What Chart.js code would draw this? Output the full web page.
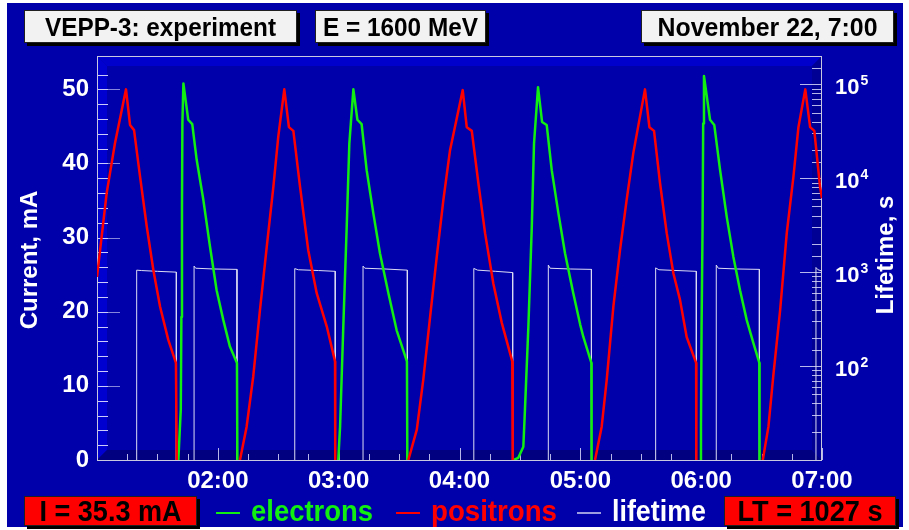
<!DOCTYPE html>
<html>
<head>
<meta charset="utf-8">
<title>VEPP-3 beam currents</title>
<script src="https://cdn.jsdelivr.net/npm/chart.js@4.4.1/dist/chart.umd.min.js"></script>
<style>
  html, body { margin: 0; padding: 0; background: #ffffff; }
  canvas { display: block; }
</style>
</head>
<body>
<canvas id="beamChart" width="909" height="530"></canvas>
<script>
// time is in minutes after midnight, currents in mA, lifetime in s
// null splits one fill/dump cycle from the next
const positronTime = [
  60.0, 64.8, 68.9, 74.4, 76.4, 78.4, 81.4, 84.7, 88.0, 91.3, 95.4, 99.2, 99.6, 100.0,
  131.0, 134.3, 137.6, 140.9, 144.3, 147.6, 150.0, 153.0, 155.3, 157.5, 160.8, 164.9, 169.1, 174.1, 178.2, 178.3, 179.0,
  214.6, 218.8, 222.0, 225.4, 228.7, 232.0, 235.3, 241.6, 243.6, 246.1, 249.4, 252.7, 256.8, 261.0, 266.2, 266.4, 267.0,
  307.3, 310.6, 313.1, 316.4, 319.7, 323.0, 326.3, 332.1, 334.3, 336.6, 339.6, 342.9, 346.2, 349.5, 352.8, 357.5, 357.6, 358.0,
  390.6, 393.4, 395.8, 399.2, 402.5, 405.8, 408.3, 411.7, 414.1, 416.2, 419.0, 420.0
];
const positronCurrent = [
  24.7, 36.0, 42.7, 50.0, 45.2, 44.5, 38.2, 31.5, 25.6, 20.7, 16.2, 13.1, 0, null,
  0, 4.5, 11.3, 20.2, 28.8, 36.9, 43.6, 50.0, 44.9, 44.4, 36.9, 28.3, 22.5, 18.0, 13.3, 0, null,
  0, 4.1, 10.8, 19.3, 27.4, 35.1, 41.8, 49.9, 44.9, 44.4, 37.3, 30.6, 23.8, 18.5, 13.3, 0, null,
  0, 4.5, 10.8, 20.7, 28.3, 35.1, 41.4, 50.0, 44.9, 44.4, 37.3, 30.6, 25.2, 21.6, 16.6, 13.1, 0, null,
  0, 4.5, 11.3, 20.2, 30.6, 38.2, 44.9, 50.0, 44.9, 44.4, 36.9, 35.3
];

const electronTime = [
  100.4, 101.6, 101.9, 102.2, 102.4, 102.9, 105.3, 107.3, 109.5, 112.8, 116.1, 119.4, 122.7, 126.0, 129.5, 129.7, 130.0,
  179.8, 180.7, 182.3, 184.0, 185.3, 187.3, 189.3, 191.4, 193.9, 197.2, 200.5, 204.7, 208.8, 213.9, 214.1, 214.5,
  266.9, 269.2, 271.7, 272.5, 274.2, 275.9, 277.0, 279.0, 281.0, 283.3, 285.8, 289.1, 292.4, 296.5, 299.9, 301.5, 305.5, 305.6, 306.0,
  359.7, 359.9, 360.2, 360.7, 361.0, 361.4, 364.4, 366.5, 369.4, 372.7, 376.0, 379.3, 382.6, 385.9, 388.9, 389.0
];
const electronCurrent = [
  0, 6.8, 19.3, 34.2, 45.4, 50.8, 45.9, 45.3, 40.5, 35.1, 28.8, 22.9, 18.9, 15.3, 13.1, 0, null,
  0, 4.5, 18.0, 31.5, 42.7, 50.0, 45.9, 45.3, 39.1, 33.3, 27.9, 22.5, 17.5, 13.3, 0, null,
  0, 0.3, 1.8, 6.8, 18.0, 31.5, 42.7, 50.3, 45.6, 45.2, 39.1, 33.3, 27.9, 22.5, 18.3, 16.6, 13.1, 0, null,
  0, 4.5, 18.0, 31.5, 45.4, 51.8, 45.9, 45.2, 39.1, 32.8, 27.4, 22.9, 18.9, 15.8, 13.1, 0
];

// lifetime is only measured while a beam is stored; 1 s stands for "no beam"
const NO_BEAM = 1;
const lifetimeTime = [
  79.7, 79.7, 82.0, 90.0, 99.4, 99.4,
  108.2, 108.2, 109.0, 118.0, 129.5, 129.5,
  158.2, 158.2, 160.0, 170.0, 178.3, 178.3,
  192.1, 192.1, 193.0, 203.0, 214.1, 214.1,
  247.1, 247.1, 249.0, 258.0, 266.4, 266.4,
  284.1, 284.1, 285.0, 295.0, 305.5, 305.5,
  337.4, 337.4, 339.0, 348.0, 357.6, 357.6,
  367.5, 367.5, 368.5, 378.0, 388.9, 388.9,
  417.0, 417.0, 418.0, 420.0
];
const lifetimeValue = [
  NO_BEAM, 1050, 1040, 1020, 1000, NO_BEAM,
  NO_BEAM, 1160, 1100, 1080, 1070, NO_BEAM,
  NO_BEAM, 1090, 1060, 1040, 1020, NO_BEAM,
  NO_BEAM, 1160, 1100, 1080, 1050, NO_BEAM,
  NO_BEAM, 1095, 1050, 1020, 990, NO_BEAM,
  NO_BEAM, 1190, 1100, 1080, 1070, NO_BEAM,
  NO_BEAM, 1110, 1060, 1040, 1020, NO_BEAM,
  NO_BEAM, 1190, 1100, 1080, 1070, NO_BEAM,
  NO_BEAM, 1120, 1060, 1027
];

const hourTicks = [120, 180, 240, 300, 360, 420];
const hourLabels = ['02:00', '03:00', '04:00', '05:00', '06:00', '07:00'];
const lifetimeDecades = [2, 3, 4, 5];

const FONT = '"Liberation Sans", Arial, Helvetica, sans-serif';
const BLUE = '#0000aa';
const LIFETIME_COLOR = '#dcdcf4';
const GREEN = '#11ee11';

function toPoints(xs, ys) {
  return xs.map((x, i) => ({ x: x, y: ys[i] }));
}

function polygon(ctx, pts, fill) {
  ctx.beginPath();
  ctx.moveTo(pts[0][0], pts[0][1]);
  for (let i = 1; i < pts.length; i++) ctx.lineTo(pts[i][0], pts[i][1]);
  ctx.closePath();
  ctx.fillStyle = fill;
  ctx.fill();
}

function line(ctx, x1, y1, x2, y2) {
  ctx.beginPath();
  ctx.moveTo(x1, y1);
  ctx.lineTo(x2, y2);
  ctx.stroke();
}

// narrow bold text: drawn at `size` and squeezed to `width`
function narrowText(ctx, text, x, baseline, width, size, align) {
  ctx.font = 'bold ' + size + 'px ' + FONT;
  const w = ctx.measureText(text).width;
  const sx = Math.min(1, width / w);
  ctx.save();
  ctx.translate(x, baseline);
  ctx.scale(sx, 1);
  ctx.textAlign = align;
  ctx.textBaseline = 'alphabetic';
  ctx.fillText(text, 0, 0);
  ctx.restore();
}

// box with a black drop shadow, text centred in it
function labelBox(ctx, x, y, w, h, fill, text, color, size, textWidth) {
  ctx.fillStyle = '#000000';
  ctx.fillRect(x + 3, y + 3, w, h);
  ctx.fillStyle = fill;
  ctx.fillRect(x, y, w, h);
  ctx.strokeStyle = '#202020';
  ctx.lineWidth = 1;
  ctx.strokeRect(x + 0.5, y + 0.5, w - 1, h - 1);
  ctx.fillStyle = color;
  narrowText(ctx, text, x + w / 2, y + h / 2 + size * 0.36, textWidth, size, 'center');
}

const framePlugin = {
  id: 'vepp3Frame',
  beforeDraw(chart) {
    const ctx = chart.ctx;
    ctx.save();
    ctx.fillStyle = '#ffffff';
    ctx.fillRect(0, 0, chart.width, chart.height);
    ctx.fillStyle = BLUE;
    ctx.fillRect(7, 3, 896, 524);
    ctx.restore();
  },
  beforeDatasetsDraw(chart) {
    const ctx = chart.ctx;
    const a = chart.chartArea;
    const d = 10; // depth of the box-like frame
    ctx.save();
    polygon(ctx, [[a.left, a.top], [a.right, a.top], [a.right - d, a.top + d], [a.left + d, a.top + d]], '#0000cc');
    polygon(ctx, [[a.left, a.top], [a.left + d, a.top + d], [a.left + d, a.bottom - d], [a.left, a.bottom]], '#0000d0');
    polygon(ctx, [[a.left, a.bottom], [a.left + d, a.bottom - d], [a.right - d, a.bottom - d], [a.right, a.bottom]], '#000080');
    polygon(ctx, [[a.right, a.top], [a.right, a.bottom], [a.right - d, a.bottom - d], [a.right - d, a.top + d]], '#000094');

    ctx.lineWidth = 1;
    // current axis ticks, every 2 mA, longer every 10 mA
    const y = chart.scales.y;
    y.ticks.forEach(t => {
      if (t.value % 2 !== 0) return;
      const py = Math.round(y.getPixelForValue(t.value)) + 0.5;
      ctx.strokeStyle = 'rgba(225,225,255,0.9)';
      line(ctx, a.left, py, a.left + 11, py);
      if (t.value % 10 === 0) {
        ctx.strokeStyle = 'rgba(190,190,240,0.7)';
        line(ctx, a.left + 11, py, a.left + 23, py);
      }
    });
    // time axis ticks, every 15 min, longer on the hour
    const x = chart.scales.x;
    x.ticks.forEach(t => {
      const px = Math.round(x.getPixelForValue(t.value)) + 0.5;
      ctx.strokeStyle = 'rgba(215,215,250,0.85)';
      line(ctx, px, a.bottom, px, a.bottom - (t.value % 60 === 0 ? 12 : 6));
    });
    // lifetime axis ticks, 1..9 per decade
    const y2 = chart.scales.y2;
    y2.ticks.forEach(t => {
      const sig = t.value / Math.pow(10, Math.floor(Math.log10(t.value) + 1e-9));
      const py = Math.round(y2.getPixelForValue(t.value)) + 0.5;
      ctx.strokeStyle = 'rgba(215,215,250,0.85)';
      line(ctx, a.right, py, a.right - (Math.abs(sig - 1) < 1e-6 ? 22 : 10), py);
    });

    // frame outline
    ctx.strokeStyle = '#c8c8e0';
    ctx.strokeRect(a.left + 0.5, a.top + 0.5, a.right - a.left - 1, a.bottom - a.top);
    ctx.restore();
  },
  afterDraw(chart) {
    const ctx = chart.ctx;
    const a = chart.chartArea;
    ctx.save();

    // lifetime axis labels 10^n
    const y2 = chart.scales.y2;
    lifetimeDecades.forEach(e => {
      const py = y2.getPixelForValue(Math.pow(10, e));
      ctx.fillStyle = '#ffffff';
      ctx.textAlign = 'left';
      ctx.textBaseline = 'alphabetic';
      ctx.font = 'bold 22px ' + FONT;
      ctx.fillText('10', a.right + 13, py + 10);
      const w = ctx.measureText('10').width;
      ctx.font = 'bold 14px ' + FONT;
      ctx.fillText(String(e), a.right + 14 + w, py + 1);
    });

    // axis titles
    ctx.fillStyle = '#ffffff';
    ctx.font = 'bold 24px ' + FONT;
    ctx.textAlign = 'center';
    ctx.textBaseline = 'middle';
    ctx.save();
    ctx.translate(30, 260);
    ctx.rotate(-Math.PI / 2);
    ctx.fillText('Current, mA', 0, 0);
    ctx.restore();
    ctx.save();
    ctx.translate(886, 255);
    ctx.rotate(-Math.PI / 2);
    ctx.fillText('Lifetime, s', 0, 0);
    ctx.restore();

    // header
    labelBox(ctx, 24, 10, 273, 33, '#f2f2f2', 'VEPP-3: experiment', '#000000', 26, 231);
    labelBox(ctx, 315, 10, 171, 33, '#f2f2f2', 'E = 1600 MeV', '#000000', 26, 155);
    labelBox(ctx, 641, 10, 253, 33, '#f2f2f2', 'November 22, 7:00', '#000000', 26, 220);

    // footer: last readings and the legend
    const lastCurrent = positronCurrent[positronCurrent.length - 1];
    const lastLifetime = lifetimeValue[lifetimeValue.length - 1];
    labelBox(ctx, 24, 496, 173, 30, '#ff0000', 'I = ' + lastCurrent.toFixed(1) + ' mA', '#000000', 29, 142);
    labelBox(ctx, 724, 496, 172, 30, '#ff0000', 'LT = ' + lastLifetime + ' s', '#000000', 29, 145);

    const legend = [
      { x: 216, color: GREEN, lineColor: GREEN, text: 'electrons', width: 122 },
      { x: 396, color: '#ff0000', lineColor: '#ff0000', text: 'positrons', width: 126 },
      { x: 577, color: '#ffffff', lineColor: '#9c9ce0', text: 'lifetime', width: 94 }
    ];
    legend.forEach(item => {
      ctx.fillStyle = item.lineColor;
      ctx.fillRect(item.x, 512, 24, 2);
      ctx.fillStyle = item.color;
      narrowText(ctx, item.text, item.x + 35, 521, item.width, 29, 'left');
    });
    ctx.restore();
  }
};

new Chart(document.getElementById('beamChart'), {
  type: 'line',
  data: {
    datasets: [
      { label: 'positrons', data: toPoints(positronTime, positronCurrent), borderColor: '#ff0000', borderWidth: 2.5, yAxisID: 'y' },
      { label: 'electrons', data: toPoints(electronTime, electronCurrent), borderColor: GREEN, borderWidth: 2.5, yAxisID: 'y' },
      { label: 'lifetime', data: toPoints(lifetimeTime, lifetimeValue), borderColor: LIFETIME_COLOR, borderWidth: 1, yAxisID: 'y2' }
    ]
  },
  options: {
    responsive: false,
    animation: false,
    devicePixelRatio: 1,
    elements: { point: { radius: 0 }, line: { tension: 0, borderJoinStyle: 'round' } },
    layout: { padding: { top: 56 } },
    plugins: { legend: { display: false }, tooltip: { enabled: false } },
    scales: {
      x: {
        type: 'linear',
        min: 60,
        max: 420,
        grid: { display: false, drawTicks: false },
        border: { display: false },
        ticks: {
          stepSize: 15,
          autoSkip: false,
          maxRotation: 0,
          padding: 7,
          color: '#ffffff',
          font: { family: FONT, size: 24, weight: 'bold' },
          callback: v => {
            const i = hourTicks.indexOf(v);
            return i >= 0 ? hourLabels[i] : '';
          }
        },
        afterFit: s => { s.height = 70; }
      },
      y: {
        position: 'left',
        min: 0,
        max: 54.5,
        grid: { display: false, drawTicks: false },
        border: { display: false },
        ticks: {
          stepSize: 2,
          autoSkip: false,
          padding: 8,
          color: '#ffffff',
          font: { family: FONT, size: 24, weight: 'bold' },
          callback: v => (v % 10 === 0 ? String(v) : '')
        },
        afterFit: s => { s.width = 97; }
      },
      y2: {
        type: 'logarithmic',
        position: 'right',
        min: 10,
        max: 2e5,
        grid: { display: false, drawTicks: false },
        border: { display: false },
        ticks: { display: false },
        afterFit: s => { s.width = 87; }
      }
    }
  },
  plugins: [framePlugin]
});
</script>
</body>
</html>
